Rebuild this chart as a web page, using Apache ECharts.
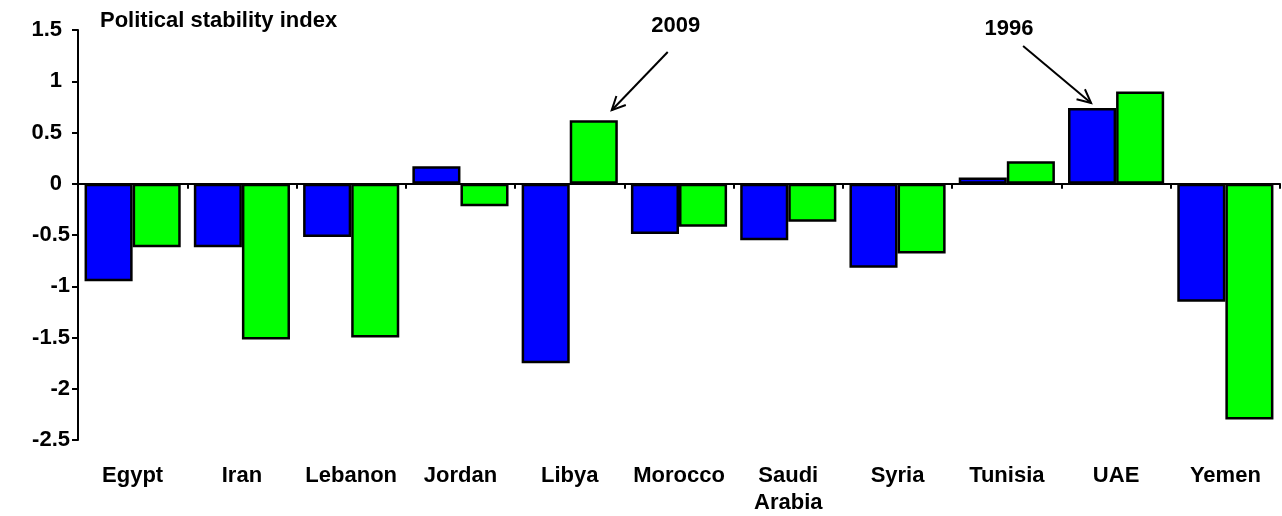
<!DOCTYPE html>
<html>
<head>
<meta charset="UTF-8">
<title></title>
<style type="text/css">
	* { margin: 0; padding: 0; }
	#chart { width: 1282px; height: 516px; background: #fff; }
</style>
</head>
<body>
<div id="chart"></div>
<script src="https://cdn.jsdelivr.net/npm/echarts@6/dist/echarts.min.js"></script>
<script type="text/javascript">
	var countries = ['Egypt', 'Iran', 'Lebanon', 'Jordan', 'Libya', 'Morocco', 'Saudi\nArabia', 'Syria', 'Tunisia', 'UAE', 'Yemen'];
	var y1996 = [-0.95, -0.62, -0.52, 0.17, -1.75, -0.49, -0.55, -0.82, 0.06, 0.74, -1.15];
	var y2009 = [-0.62, -1.52, -1.50, -0.22, 0.62, -0.42, -0.37, -0.68, 0.22, 0.90, -2.30];

	var font = 'Liberation Sans, Arial, sans-serif';
	var fs = 22;
	var chart = echarts.init(document.getElementById('chart'));

	chart.setOption({
		animation: false,
		title: {
			text: 'Political stability index',
			left: 95,
			top: 5,
			textStyle: { color: '#000', fontFamily: font, fontWeight: 'bold', fontSize: fs }
		},
		grid: { left: 78, right: 2, top: 30, bottom: 73 },
		xAxis: [{
			type: 'category',
			data: countries,
			axisLine: { onZero: true, lineStyle: { color: '#000', width: 2 } },
			axisTick: { show: true, length: 5, lineStyle: { color: '#000', width: 2 } },
			axisLabel: { show: false }
		}, {
			type: 'category',
			data: countries,
			position: 'bottom',
			axisLine: { show: false, onZero: false },
			axisTick: { show: false },
			axisLabel: {
				margin: 22,
				color: '#000',
				fontFamily: font,
				fontWeight: 'bold',
				fontSize: fs,
				lineHeight: 27,
				interval: 0
			}
		}],
		yAxis: {
			type: 'value',
			min: -2.5,
			max: 1.5,
			interval: 0.5,
			splitLine: { show: false },
			axisLine: { show: true, lineStyle: { color: '#000', width: 2 } },
			axisTick: { show: true, length: 6, lineStyle: { color: '#000', width: 2 } },
			axisLabel: {
				margin: 8,
				formatter: function (v) {
					return v >= 0 ? '{p|' + v + '}' : '{n|' + v + '}';
				},
				rich: {
					p: { color: '#000', fontFamily: font, fontWeight: 'bold', fontSize: fs, padding: [0, 8, 0, 0] },
					n: { color: '#000', fontFamily: font, fontWeight: 'bold', fontSize: fs }
				}
			}
		},
		series: [{
			name: '1996',
			type: 'bar',
			data: y1996,
			barGap: '0%',
			barCategoryGap: '12%',
			itemStyle: { color: '#0000ff', borderColor: '#000', borderWidth: 2.5 }
		}, {
			name: '2009',
			type: 'bar',
			data: y2009,
			itemStyle: { color: '#00ff00', borderColor: '#000', borderWidth: 2.5 }
		}]
	});

	// annotations: text + open arrow pointing to a bar top
	function arrow(text, tx, ty, x0, y0, x1, y1) {
		var ang = Math.atan2(y0 - y1, x0 - x1);
		var len = 15, spread = 0.45;
		return [{
			type: 'text',
			style: { text: text, x: tx, y: ty, fill: '#000', font: 'bold ' + fs + 'px ' + font, textAlign: 'center', textVerticalAlign: 'middle' }
		}, {
			type: 'line',
			shape: { x1: x0, y1: y0, x2: x1, y2: y1 },
			style: { stroke: '#000', lineWidth: 2 }
		}, {
			type: 'polyline',
			shape: { points: [
				[x1 + len * Math.cos(ang - spread), y1 + len * Math.sin(ang - spread)],
				[x1, y1],
				[x1 + len * Math.cos(ang + spread), y1 + len * Math.sin(ang + spread)]
			] },
			style: { stroke: '#000', lineWidth: 2, fill: null }
		}];
	}

	var libya = chart.convertToPixel({ xAxisIndex: 0, yAxisIndex: 0 }, [4, y2009[4]]);
	var uae = chart.convertToPixel({ xAxisIndex: 0, yAxisIndex: 0 }, [9, y1996[9]]);
	var g = [];
	g = g.concat(arrow('2009', libya[0] + 106, 26, libya[0] + 98, 52, libya[0] + 42, libya[1] - 10));
	g = g.concat(arrow('1996', uae[0] - 107, 29, uae[0] - 93, 46, uae[0] - 25, uae[1] - 5));
	chart.setOption({ graphic: g });
</script>
</body>
</html>
